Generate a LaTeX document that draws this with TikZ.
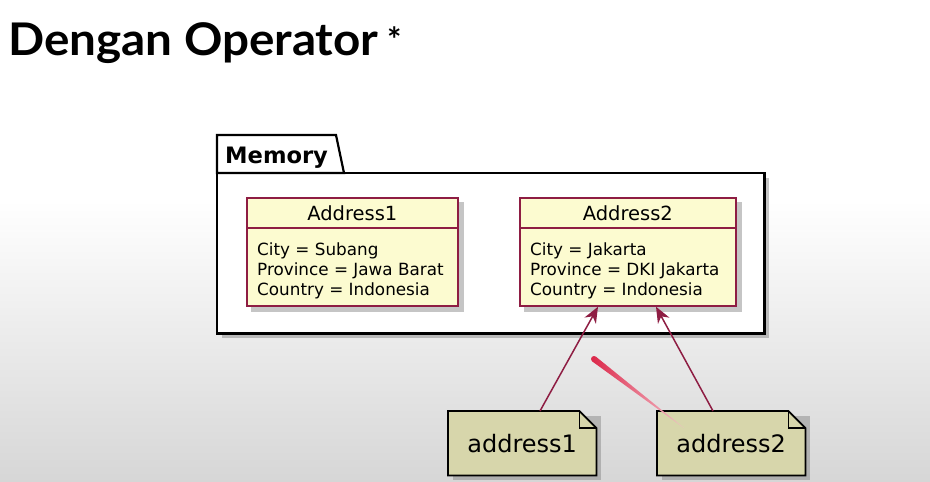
\documentclass[tikz,border=0pt]{standalone}
\usepackage{fontspec}
\setmainfont{DejaVu Sans}
\newfontfamily\titlefont{Lato}
\usetikzlibrary{arrows.meta,calc}
\definecolor{umlred}{HTML}{8E1D43}
\definecolor{classfill}{HTML}{FCFBD0}
\definecolor{notefill}{HTML}{D7D6AB}
\definecolor{penred}{HTML}{DC2A4C}
\tikzset{
  shadowfill/.style={fill=black!50,opacity=0.45},
  pkgline/.style={draw=black,line width=2.2pt,fill=white},
  classbox/.style={draw=umlred,line width=1.7pt,fill=classfill,rectangle,inner sep=0,anchor=north west},
  hdr/.style={font=\fontsize{19.5}{22}\selectfont,anchor=base,inner sep=0},
  attr/.style={font=\fontsize{16.8}{20}\selectfont,anchor=base west,inner sep=0},
  notebox/.style={rectangle,inner sep=0,minimum width=148pt,minimum height=64pt,anchor=north west},
  notetext/.style={font=\fontsize{24}{28}\selectfont,anchor=base,inner sep=0},
  noteline/.style={draw=black,line width=1.8pt,fill=notefill,line join=miter},
  link/.style={draw=umlred,line width=1.5pt,-{Stealth[length=16pt,width=13pt,inset=5pt]}}
}
\begin{document}
\begin{tikzpicture}[x=1pt,y=-1pt]
\useasboundingbox (0,0) rectangle (930,482);
% background
\fill[white] (0,0) rectangle (930,482);
\shade[top color=white,bottom color=black!16] (0,200) rectangle (930,482);

% title
\node[anchor=base west,inner sep=0,font=\titlefont\bfseries\fontsize{45}{50}\selectfont] (title) at (8,55) {\scalebox{1.058}[1]{Dengan Operator}};
\node[anchor=base west,inner sep=0,font=\titlefont\bfseries\fontsize{34}{40}\selectfont] (star) at (387,52) {*};

% package Memory
\node[rectangle,inner sep=0,minimum width=547pt,minimum height=160pt,anchor=north west] (mem) at (217,173) {};
\fill[shadowfill] ($(mem.north west)+(5,5)$) rectangle ($(mem.south east)+(5,5)$);
\draw[pkgline] (mem.north west) rectangle (mem.south east);
\draw[pkgline] (mem.north west) -- ++(0,-38) -- ++(119,0) -- ++(8,38) -- cycle;
\node[anchor=base west,inner sep=0,font=\bfseries\fontsize{22.6}{26}\selectfont] (memlbl) at (225,163) {Memory};

% class Address1
\node[classbox,draw=none,fill=none,minimum width=211pt,minimum height=108pt] (a1) at (246,197) {};
\fill[shadowfill] ($(a1.north west)+(5,5)$) rectangle ($(a1.south east)+(5,5)$);
\node[classbox,minimum width=211pt,minimum height=108pt] (a1) at (246,197) {};
\draw[umlred,line width=1.5pt] ($(a1.north west)+(0,31)$) -- ($(a1.north east)+(0,31)$);
\node[hdr] (a1h) at ($(a1.north)+(0,23.5)$) {Address1};
\node[attr] (a1c) at ($(a1.north west)+(11,58.5)$) {City = Subang};
\node[attr] (a1p) at ($(a1.north west)+(11,78.5)$) {Province = Jawa Barat};
\node[attr] (a1k) at ($(a1.north west)+(11,98.5)$) {Country = Indonesia};

% class Address2
\node[classbox,draw=none,fill=none,minimum width=216pt,minimum height=108pt] (a2) at (519,197) {};
\fill[shadowfill] ($(a2.north west)+(5,5)$) rectangle ($(a2.south east)+(5,5)$);
\node[classbox,minimum width=216pt,minimum height=108pt] (a2) at (519,197) {};
\draw[umlred,line width=1.5pt] ($(a2.north west)+(0,31)$) -- ($(a2.north east)+(0,31)$);
\node[hdr] (a2h) at ($(a2.north)+(0,23.5)$) {Address2};
\node[attr] (a2c) at ($(a2.north west)+(11,58.5)$) {City = Jakarta};
\node[attr] (a2p) at ($(a2.north west)+(11,78.5)$) {Province = DKI Jakarta};
\node[attr] (a2k) at ($(a2.north west)+(11,98.5)$) {Country = Indonesia};

% notes
\node[notebox] (n1) at (448,411) {};
\fill[shadowfill] ($(n1.north west)+(5,5)$) rectangle ($(n1.south east)+(5,5)$);
\draw[noteline] (n1.north west) -- ($(n1.north east)+(-17,0)$) -- ($(n1.north east)+(0,17)$) -- (n1.south east) -- (n1.south west) -- cycle;
\draw[black,line width=1.3pt] ($(n1.north east)+(-17,0)$) -- ($(n1.north east)+(-17,17)$) -- ($(n1.north east)+(0,17)$);
\node[notetext] (n1t) at ($(n1.north)+(0,41)$) {address1};

\node[notebox] (n2) at (657,411) {};
\fill[shadowfill] ($(n2.north west)+(5,5)$) rectangle ($(n2.south east)+(5,5)$);
\draw[noteline] (n2.north west) -- ($(n2.north east)+(-17,0)$) -- ($(n2.north east)+(0,17)$) -- (n2.south east) -- (n2.south west) -- cycle;
\draw[black,line width=1.3pt] ($(n2.north east)+(-17,0)$) -- ($(n2.north east)+(-17,17)$) -- ($(n2.north east)+(0,17)$);
\node[notetext] (n2t) at ($(n2.north)+(0,41)$) {address2};

% links
\draw[link] ($(n1.north west)+(92,0)$) -- ($(a2.south west)+(79,0)$);
\draw[link] ($(n2.north west)+(56,0)$) -- ($(a2.south west)+(137,0)$);

% pen stroke
\fill[penred] (594,359) circle (3.0);
\shade[left color=penred,right color=penred!30] (592.2,361.4) -- (595.8,356.6) -- (684,428) -- cycle;
\end{tikzpicture}
\end{document}
